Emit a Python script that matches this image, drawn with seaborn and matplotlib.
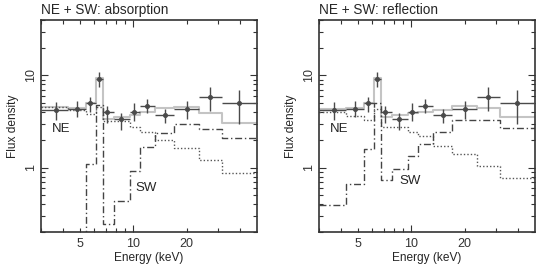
import matplotlib
matplotlib.use("Agg")
import matplotlib.pyplot as plt
from matplotlib.ticker import FixedLocator, FuncFormatter, NullFormatter
import seaborn as sns

# energy bins (keV)
edges = [3.0, 4.25, 5.4, 6.15, 6.7, 7.75, 9.55, 10.9, 13.3, 17.0, 23.5, 31.5, 50.0]

# observed data points (same in both panels)
x_pts = [3.67, 4.8, 5.7, 6.4, 7.13, 8.54, 10.1, 12.0, 15.1, 20.2, 27.2, 39.6]
y_pts = [4.23, 4.37, 5.01, 9.27, 3.99, 3.37, 3.99, 4.72, 3.73, 4.34, 5.83, 5.0]
y_hi = [5.2, 5.3, 5.9, 10.8, 4.67, 3.92, 5.0, 5.54, 4.34, 5.3, 7.51, 7.0]
y_lo = [3.28, 3.54, 4.05, 7.5, 3.07, 2.55, 3.23, 3.89, 3.02, 3.34, 4.13, 2.97]

# absorption model
total_abs = [4.6, 4.4, 5.0, 9.3, 3.4, 3.55, 3.75, 4.0, 4.4, 4.6, 3.95, 3.02]
ne_abs = [4.55, 4.23, 3.85, 4.5, 3.2, 3.2, 2.77, 2.44, 2.0, 1.65, 1.21, 0.88]
sw_abs = [0.05, 0.05, 1.09, 4.8, 0.245, 0.43, 0.93, 1.67, 2.38, 2.94, 2.61, 2.08]

# reflection model
total_ref = [4.35, 4.4, 5.0, 9.3, 3.52, 3.73, 3.88, 4.0, 4.23, 4.72, 4.4, 3.52]
ne_ref = [4.05, 3.6, 3.28, 4.3, 2.77, 2.77, 2.44, 2.2, 1.71, 1.41, 1.05, 0.77]
sw_ref = [0.39, 0.66, 1.6, 5.0, 0.73, 0.97, 1.32, 1.79, 2.44, 3.28, 3.28, 2.7]

sns.set_style("ticks")
plt.rcParams['font.family'] = ['Liberation Sans', 'DejaVu Sans']
plt.rcParams['font.size'] = 9

fig = plt.figure(figsize=(5.4, 2.64), dpi=100)
ax1 = fig.add_axes([41/540, 32/264, 216/540, 212/264])
ax2 = fig.add_axes([319/540, 32/264, 216/540, 212/264])


def step(ax, vals, **kw):
    sns.lineplot(x=edges, y=vals + vals[-1:], ax=ax, drawstyle='steps-post',
                 estimator=None, sort=False, **kw)


def panel(ax, title, total, ne, sw, sw_xy):
    step(ax, total, color='#c4c4c4', lw=1.5)
    step(ax, ne, color='#555555', lw=1.0, linestyle=(0, (1, 1.5)))
    step(ax, sw, color='#444444', lw=1.0, linestyle=(0, (5, 2, 1, 2)))
    xerr = [[x - lo for x, lo in zip(x_pts, edges[:-1])],
            [hi - x for x, hi in zip(x_pts, edges[1:])]]
    yerr = [[y - lo for y, lo in zip(y_pts, y_lo)],
            [hi - y for y, hi in zip(y_pts, y_hi)]]
    ax.errorbar(x_pts, y_pts, xerr=xerr, yerr=yerr, fmt='o', ms=2.6,
                color='#4a4a4a', elinewidth=1.0, capsize=0, zorder=5)
    ax.set_xscale('log')
    ax.set_yscale('log')
    ax.set_xlim(3, 50)
    ax.set_ylim(0.2, 40)
    ax.xaxis.set_major_locator(FixedLocator([10]))
    ax.xaxis.set_minor_locator(FixedLocator([3, 4, 5, 6, 7, 8, 9, 20, 30, 40]))
    ax.xaxis.set_major_formatter(FuncFormatter(lambda v, p: '%g' % v))
    ax.xaxis.set_minor_formatter(FuncFormatter(lambda v, p: '%g' % v if v in (5, 20) else ''))
    ax.yaxis.set_major_locator(FixedLocator([1, 10]))
    ax.yaxis.set_minor_locator(FixedLocator([0.2, 0.3, 0.4, 0.5, 0.6, 0.7, 0.8, 0.9,
                                             2, 3, 4, 5, 6, 7, 8, 9, 20, 30, 40]))
    ax.yaxis.set_major_formatter(FuncFormatter(lambda v, p: '%g' % v))
    ax.yaxis.set_minor_formatter(NullFormatter())
    ax.tick_params(which='both', direction='in', top=True, right=True,
                   colors='#333333', width=0.8, labelsize=9)
    ax.tick_params(which='major', length=5)
    ax.tick_params(which='minor', length=3)
    ax.tick_params(axis='x', which='both', pad=4)
    ax.tick_params(axis='y', which='both', labelrotation=90, pad=3)
    for s in ax.spines.values():
        s.set_color('#333333')
        s.set_linewidth(1.2)
    ax.set_title(title, loc='left', fontsize=9.8, pad=4)
    ax.set_xlabel('Energy (keV)', fontsize=8.6, labelpad=2)
    ax.set_ylabel('Flux density', fontsize=8.6, labelpad=4)
    ax.text(3.9, 2.6, 'NE', fontsize=9.5, ha='center', va='center')
    ax.text(sw_xy[0], sw_xy[1], 'SW', fontsize=9.5, ha='left', va='center')


panel(ax1, 'NE + SW: absorption', total_abs, ne_abs, sw_abs, (10.2, 0.6))
panel(ax2, 'NE + SW: reflection', total_ref, ne_ref, sw_ref, (8.5, 0.71))
for lab in ax1.get_yticklabels() + ax2.get_yticklabels():
    lab.set_va('center')

fig.savefig('out.png', dpi=100)
